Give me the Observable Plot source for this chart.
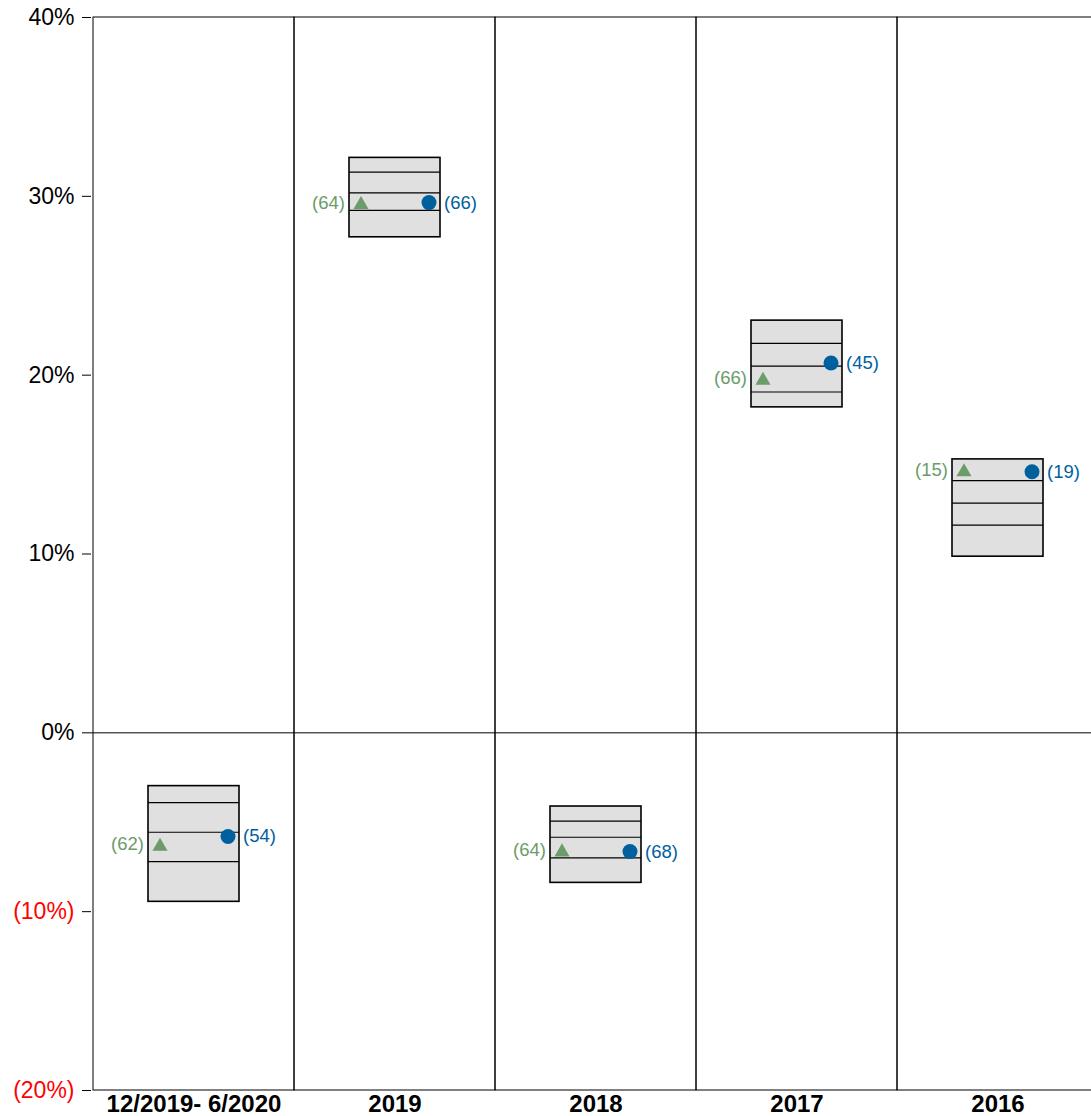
<!DOCTYPE html>
<html>
<head>
<meta charset="utf-8">
<script src="https://cdn.jsdelivr.net/npm/d3@7"></script>
<script src="https://cdn.jsdelivr.net/npm/@observablehq/plot@0.6"></script>
<style>
  html, body { margin: 0; padding: 0; background: #fff; overflow: hidden; }
  #chart { width: 1100px; }
  #chart svg { display: block; max-width: none !important; }
</style>
</head>
<body>
<div id="chart"></div>
<script>
// Periods shown as columns, most recent first
const categories = ["12/2019- 6/2020", "2019", "2018", "2017", "2016"];

// Return range per period (%): box top, three inner lines, box bottom
const boxTop    = [-2.98, 32.15, -4.12, 23.05, 15.29];
const line1     = [-3.90, 31.35, -4.94, 21.78, 14.10];
const line2     = [-5.56, 30.19, -5.84, 20.51, 12.85];
const line3     = [-7.20, 29.22, -6.99, 19.06, 11.62];
const boxBottom = [-9.45, 27.71, -8.39, 18.20,  9.85];

// Triangle series (%) with its rank labels
const triangleValue = [-6.23, 29.65, -6.55, 19.82, 14.71];
const triangleRank  = [62, 64, 64, 66, 15];

// Circle series (%) with its rank labels
const circleValue = [-5.80, 29.65, -6.64, 20.68, 14.60];
const circleRank  = [54, 66, 68, 45, 19];

// Y-axis ticks
const yTicks = [-20, -10, 0, 10, 20, 30, 40];

const green = "#6b9c69";
const blue = "#00609e";

const boxes = categories.map((c, i) => ({cat: c, top: boxTop[i], bottom: boxBottom[i]}));
const lines = categories.flatMap((c, i) => [line1[i], line2[i], line3[i]].map(v => ({cat: c, v})));
const tri = categories.map((c, i) => ({cat: c, v: triangleValue[i], n: triangleRank[i]}));
const circ = categories.map((c, i) => ({cat: c, v: circleValue[i], n: circleRank[i]}));

const fmt = d => d < 0 ? `(${-d}%)` : `${d}%`;

const bandW = 201.6;
const boxInset = 55;

const chart = Plot.plot({
  width: 91 + bandW * categories.length,
  height: 1116,
  marginLeft: 91,
  marginRight: 0,
  marginTop: 17,
  marginBottom: 26,
  style: {fontFamily: "'Liberation Sans', Arial, sans-serif", background: "#fff", maxWidth: "none"},
  x: {domain: categories, padding: 0, label: null},
  y: {domain: [-20, 40], label: null},
  marks: [
    // column cells (gives top, bottom, left edge and dividers)
    Plot.barY(categories, {x: d => d, y1: -20, y2: 40, fill: "none", stroke: "#000", strokeWidth: 1}),
    Plot.ruleY([0], {stroke: "#000", strokeWidth: 1}),
    // range boxes
    Plot.barY(boxes, {x: "cat", y1: "bottom", y2: "top", fill: "#e0e0e0", stroke: "#000", strokeWidth: 1.6, insetLeft: boxInset, insetRight: boxInset}),
    Plot.tickY(lines, {x: "cat", y: "v", stroke: "#000", strokeWidth: 1.2, insetLeft: boxInset, insetRight: boxInset}),
    // triangle markers and labels
    Plot.dot(tri, {x: "cat", y: "v", symbol: "triangle", r: 5.6, fill: green, stroke: "none", dx: -34, dy: 2.1}),
    Plot.text(tri, {x: "cat", y: "v", text: d => `(${d.n})`, fill: green, fontSize: 18.5, textAnchor: "end", dx: -50}),
    // circle markers and labels
    Plot.dot(circ, {x: "cat", y: "v", r: 7.5, fill: blue, stroke: "none", dx: 34}),
    Plot.text(circ, {x: "cat", y: "v", text: d => `(${d.n})`, fill: blue, fontSize: 18.5, textAnchor: "start", dx: 49}),
    // axes
    Plot.axisY(yTicks.filter(d => d >= 0), {tickSize: 9, tickPadding: 8, tickFormat: fmt, fontSize: 23, fill: "#000", stroke: "#000", label: null}),
    Plot.axisY(yTicks.filter(d => d < 0), {tickSize: 9, tickPadding: 8, tickFormat: fmt, fontSize: 23, fill: "#ff0000", stroke: "#000", label: null}),
    Plot.axisX({tickSize: 0, tickPadding: 4, fontSize: 24, fontWeight: "bold", fill: "#000", label: null})
  ]
});

document.getElementById("chart").appendChild(chart);
</script>
</body>
</html>
